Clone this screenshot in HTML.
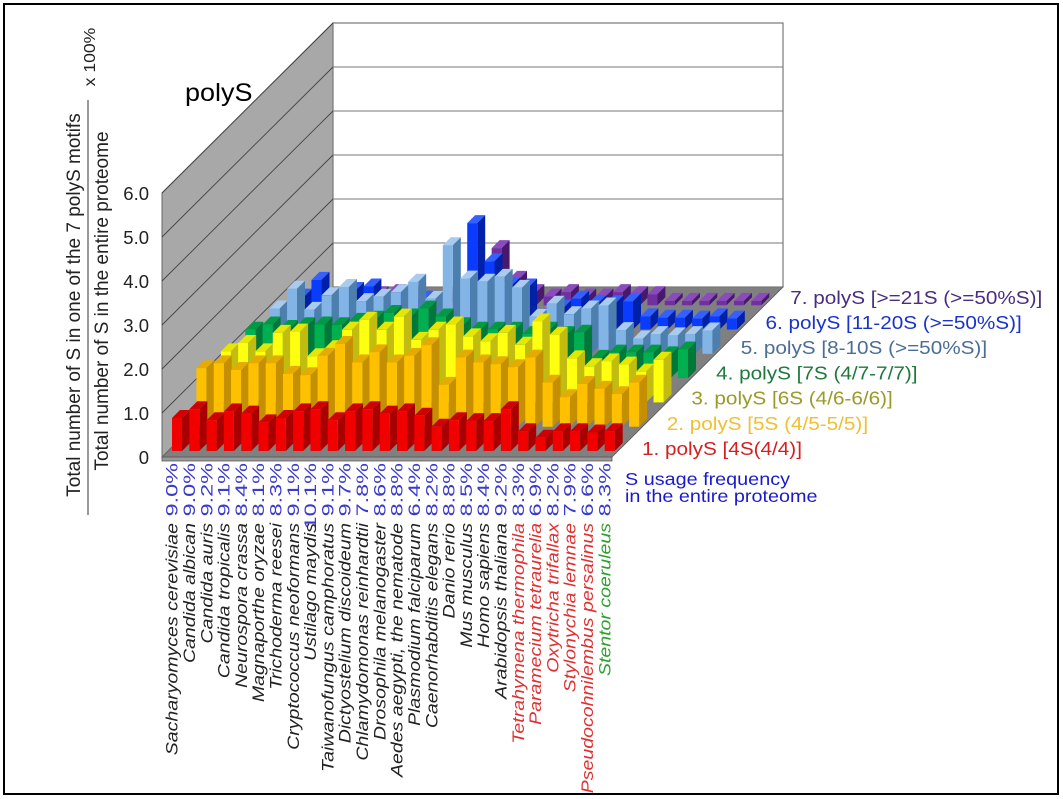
<!DOCTYPE html>
<html><head><meta charset="utf-8"><style>
html,body{margin:0;padding:0;background:#fff}
svg{display:block;font-family:"Liberation Sans",Arial,sans-serif}
</style></head><body>
<svg id="chart" width="1063" height="799" viewBox="0 0 1063 799" xmlns="http://www.w3.org/2000/svg">
<rect x="4" y="4" width="1054" height="790" fill="#fff" stroke="#000" stroke-width="2"/>
<g id="walls"></g>
<g id="bars"></g>
<g id="axes"></g>
<text transform="translate(185,101) scale(1.08,1)" font-size="25" fill="#000">polyS</text>
<text transform="translate(80,305) rotate(-90)" text-anchor="middle" font-size="19" fill="#222">Total number of S in one of the 7 polyS motifs</text>
<line x1="88" y1="100" x2="88" y2="515" stroke="#333" stroke-width="1"/>
<text transform="translate(108,301) rotate(-90)" text-anchor="middle" font-size="19" fill="#222">Total number of S in the entire proteome</text>
<text transform="translate(95,57) rotate(-90) scale(1.1,1)" text-anchor="middle" font-size="16" fill="#222">x 100%</text>
<g id="legend"></g>
<text transform="translate(625,485) scale(1.1,1)" font-size="18" fill="#1a1acc">S usage frequency</text>
<text transform="translate(625,502) scale(1.1,1)" font-size="18" fill="#1a1acc">in the entire proteome</text>
</svg>
<script>
const species = ["Sacharyomyces cerevisiae","Candida albican","Candida auris","Candida tropicalis","Neurospora crassa","Magnaporthe oryzae","Trichoderma reesei","Cryptococcus neoformans","Ustilago maydis","Taiwanofungus camphoratus","Dictyostelium discoideum","Chlamydomonas reinhardtii","Drosophila melanogaster","Aedes aegypti, the nematode","Plasmodium falciparum","Caenorhabditis elegans","Danio rerio","Mus musculus","Homo sapiens","Arabidopsis thaliana","Tetrahymena thermophila","Paramecium tetraurelia","Oxytricha trifallax","Stylonychia lemnae","Pseudocohnilembus persalinus","Stentor coeruleus"];
const usage = ["9.0%","9.0%","9.2%","9.1%","8.4%","8.1%","8.3%","9.1%","10.1%","9.1%","9.7%","7.8%","8.6%","8.8%","6.4%","8.2%","8.8%","8.5%","8.4%","9.2%","8.3%","6.9%","8.2%","7.9%","6.6%","8.3%"];
const speciesGroup = ["k","k","k","k","k","k","k","k","k","k","k","k","k","k","k","k","k","k","k","k","r","r","r","r","r","g"];
const seriesNames = ["1. polyS [4S(4/4)]","2. polyS [5S (4/5-5/5)]","3. polyS [6S (4/6-6/6)]","4. polyS [7S (4/7-7/7)]","5. polyS [8-10S (>=50%S)]","6. polyS [11-20S (>=50%S)]","7. polyS [>=21S (>=50%S)]"];
const s1 = [0.75,0.95,0.7,0.9,0.85,0.65,0.75,0.9,0.95,0.7,0.9,0.95,0.85,0.9,0.8,0.55,0.7,0.68,0.68,0.95,0.45,0.3,0.45,0.45,0.42,0.45];
const s2 = [1.33,1.44,1.29,1.44,1.44,1.2,1.17,1.61,1.88,1.46,1.69,1.46,1.61,1.85,0.95,1.57,1.46,1.42,1.35,1.57,1.0,0.67,0.97,0.86,0.74,1.0];
const s3 = [1.16,1.35,1.16,1.58,1.61,1.05,1.23,1.65,1.88,1.65,1.95,1.42,1.65,1.77,1.5,1.39,1.58,1.31,1.84,1.54,1.0,0.82,0.93,0.86,0.7,0.97];
const s4 = [1.1,1.22,1.14,1.2,1.22,1.2,1.3,1.35,1.48,1.4,1.58,1.4,1.2,1.1,1.1,1.1,1.0,1.1,1.0,1.03,0.46,0.58,0.58,0.58,0.54,0.65];
const s5 = [1.03,1.48,1.0,1.33,1.52,1.2,1.3,1.4,1.64,1.25,2.47,1.71,1.64,1.75,1.5,0.84,1.14,0.9,1.03,1.1,0.54,0.35,0.45,0.42,0.45,0.53];
const s6 = [0.75,1.13,0.5,0.9,0.98,0.6,0.8,0.7,0.5,0.4,2.42,1.55,1.0,0.98,0.3,0.5,0.7,0.6,0.6,0.64,0.3,0.27,0.27,0.25,0.3,0.25];
const s7 = [0.1,0.2,0.1,0.25,0.3,0.1,0.15,0.2,0.1,0.15,1.3,0.6,0.3,0.2,0.3,0.2,0.2,0.3,0.25,0.25,0.1,0.1,0.1,0.1,0.1,0.1];
const yTicks = ["0","1.0","2.0","3.0","4.0","5.0","6.0"];

const series = [s1,s2,s3,s4,s5,s6,s7];
const NS = "http://www.w3.org/2000/svg";
const X0 = 162, Y0 = 457, DEPTH_X = 171, DEPTH_Y = -170, UNIT = 44, YMAX = 6;
const nCat = species.length, nRow = series.length;
const catW = 450 / nCat;
const rowDX = DEPTH_X / nRow, rowDY = DEPTH_Y / nRow;
function xAt(cat, row) { return X0 + cat * catW + row * rowDX; }
function yAt(val, row) { return Y0 + row * rowDY - val * UNIT; }
const cols = [
  ["#f20000","#a80000","#d00000"],
  ["#ffc000","#c48f00","#e6ab00"],
  ["#ffff10","#c2bc10","#e6e600"],
  ["#00b050","#00783a","#009a45"],
  ["#82b4e6","#4d7fae","#a9cbef"],
  ["#0a3cff","#0020a8","#3360ff"],
  ["#7030a0","#48186c","#8a4cbc"]
];
const legCols = ["#d42020","#f0c030","#9a9a28","#1e7a3a","#4a6e96","#1a33cc","#4b2d7f"];
function el(tag, attrs, parent) {
  const e = document.createElementNS(NS, tag);
  for (const k in attrs) e.setAttribute(k, attrs[k]);
  parent.appendChild(e);
  return e;
}
function pts(a) { return a.map(p => p[0].toFixed(1) + "," + p[1].toFixed(1)).join(" "); }

const walls = document.getElementById("walls");
const slab = el("polygon", {points: pts([[X0, Y0], [X0 + 450, Y0], [X0 + 450, Y0 + 4], [X0, Y0 + 4]]), fill: "#9a9a9a", stroke: "#555", "stroke-width": 0.8}, walls);


const floor = el("polygon", {points: pts([[X0, Y0], [X0 + 450, Y0], [X0 + 450 + DEPTH_X, Y0 + DEPTH_Y], [X0 + DEPTH_X, Y0 + DEPTH_Y]]), fill: "#808080", stroke: "#555", "stroke-width": 0.8}, walls);


const lwall = el("polygon", {points: pts([[X0, Y0], [X0, Y0 - YMAX * UNIT], [X0 + DEPTH_X, Y0 + DEPTH_Y - YMAX * UNIT], [X0 + DEPTH_X, Y0 + DEPTH_Y]]), fill: "#a8a8a8", stroke: "#666", "stroke-width": 1}, walls);


const bwall = el("rect", {x: X0 + DEPTH_X, y: Y0 + DEPTH_Y - YMAX * UNIT, width: 450, height: YMAX * UNIT, fill: "#fff", stroke: "#777", "stroke-width": 1.2}, walls);


for (let k = 1; k <= YMAX; k++) {
  const g1 = el("line", {x1: X0, y1: Y0 - k * UNIT, x2: X0 + DEPTH_X, y2: Y0 + DEPTH_Y - k * UNIT, stroke: "#444", "stroke-width": 0.9}, walls);
  
  
  const g2 = el("line", {x1: X0 + DEPTH_X, y1: Y0 + DEPTH_Y - k * UNIT, x2: X0 + DEPTH_X + 450, y2: Y0 + DEPTH_Y - k * UNIT, stroke: "#777", "stroke-width": 1}, walls);
  
  
}

const bars = document.getElementById("bars");
const BW = 10, BD = 8;
for (let r = nRow - 1; r >= 0; r--) {
  for (let c = 0; c < nCat; c++) {
    const v = series[r][c];
    const x = xAt(c, r) + 10, yb = yAt(0, r) - 6, yt = yAt(v, r) - 6;
    const g = el("g", {}, bars);
    
    
    el("polygon", {points: pts([[x, yt], [x + BW, yt], [x + BW + BD, yt - BD], [x + BD, yt - BD]]), fill: cols[r][2]}, g);
    el("polygon", {points: pts([[x + BW, yt], [x + BW + BD, yt - BD], [x + BW + BD, yb - BD], [x + BW, yb]]), fill: cols[r][1]}, g);
    el("rect", {x: x, y: yt, width: BW, height: Math.max(0, yb - yt), fill: cols[r][0]}, g);
  }
}

const axes = document.getElementById("axes");
for (let k = 0; k < yTicks.length; k++) {
  const t = el("text", {x: 149, y: Y0 - k * UNIT + 7, "text-anchor": "end", "font-size": 18.5, fill: "#222"}, axes);
  t.textContent = yTicks[k];
  
  
}
for (let c = 0; c < nCat; c++) {
  const cx = X0 + 1 + (c + 0.5) * catW + 6;
  const u = el("text", {transform: "translate(" + cx.toFixed(1) + ",463) rotate(-90) scale(1.38,1)", "text-anchor": "end", "font-size": 17, fill: "#3a3acc"}, axes);
  u.textContent = usage[c];
  
  
  const col = speciesGroup[c] === "r" ? "#e03030" : (speciesGroup[c] === "g" ? "#2ea02e" : "#222");
  const s = el("text", {transform: "translate(" + cx.toFixed(1) + ",523) rotate(-90) scale(1.15,1)", "text-anchor": "end", "font-size": 17, "font-style": "italic", fill: col}, axes);
  s.textContent = species[c];
  
  
}
const legend = document.getElementById("legend");
for (let r = 0; r < nRow; r++) {
  const t = el("text", {transform: "translate(" + (642 + r * 24.7).toFixed(1) + "," + (455 - r * 25.2).toFixed(1) + ") scale(1.12,1)", "font-size": 18.5, fill: legCols[r]}, legend);
  t.textContent = seriesNames[r];
  
  
}
</script>
</body></html>
